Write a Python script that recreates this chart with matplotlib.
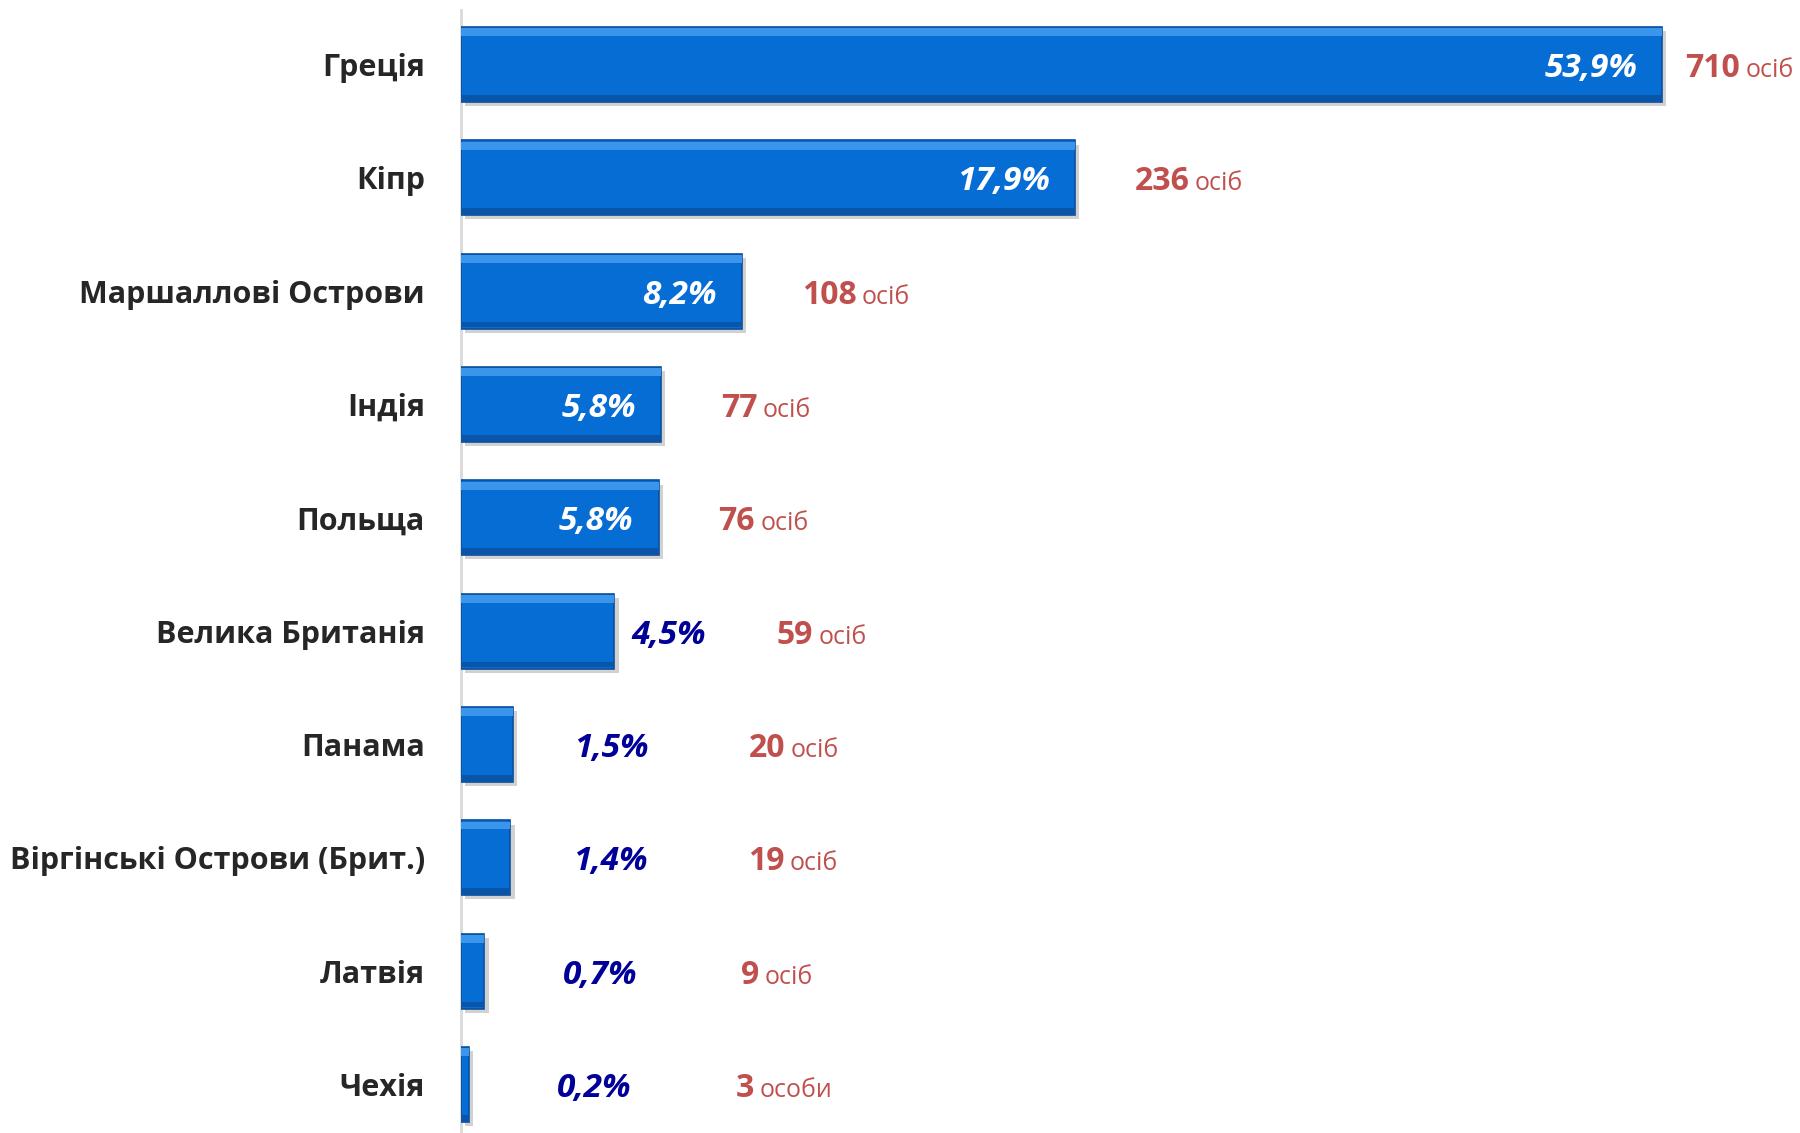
import matplotlib
matplotlib.use("Agg")
import matplotlib.pyplot as plt
import matplotlib.patheffects as pe

countries = ['Греція', 'Кіпр', 'Маршаллові Острови', 'Індія', 'Польща',
             'Велика Британія', 'Панама', 'Віргінські Острови (Брит.)',
             'Латвія', 'Чехія']
people = [710, 236, 108, 77, 76, 59, 20, 19, 9, 3]
shares = ['53,9%', '17,9%', '8,2%', '5,8%', '5,8%', '4,5%', '1,5%', '1,4%', '0,7%', '0,2%']
units = ['осіб'] * 9 + ['особи']

# the longest bar is cut short in the original picture
bar_cap = 462
inside_min = 70

plt.rcParams['font.family'] = ['Open Sans', 'DejaVu Sans']

fig = plt.figure(figsize=(18, 11.33), dpi=100)
ax = fig.add_axes([461 / 1800, 0, 1 - 461 / 1800, 1 - 10 / 1133])

y = list(range(len(countries)))
shown = [min(v, bar_cap) for v in people]
h = 0.66

shadow = [pe.SimplePatchShadow(offset=(3, -3), shadow_rgbFace='#8C8C8C', alpha=0.4), pe.Normal()]
bars = ax.barh(y, shown, height=h, color='#066DD5', edgecolor='#0B4F9E', linewidth=1.2, zorder=3)
for b in bars:
    b.set_path_effects(shadow)
ax.barh([v - h / 2 + 0.045 for v in y], shown, height=0.07, color='#3A95EB', linewidth=0, zorder=4)
ax.barh([v + h / 2 - 0.035 for v in y], shown, height=0.05, color='#0A55A8', linewidth=0, zorder=4)

px = 2.6  # pixels per unit on the x axis
for i, (v, s, n, u) in enumerate(zip(shown, shares, people, units)):
    base = i + 0.11
    if v >= inside_min:
        ax.text(v - 25 / px, base, s, ha='right', va='baseline', color='white',
                fontsize=24, fontweight='bold', fontstyle='italic', zorder=5)
        cx = min(v + 23, bar_cap + 9)
    else:
        pc = max(v + 21, 50 + v * 0.4)
        ax.text(pc, base, s, ha='center', va='baseline', color='#000099',
                fontsize=24, fontweight='bold', fontstyle='italic', zorder=5)
        cx = 105 + 0.28 * v
    t = ax.text(cx, base, str(n), ha='left', va='baseline', color='#C0504D',
                fontsize=23, fontweight='bold', zorder=5)
    ax.annotate(u, xy=(1, base), xycoords=(t, 'data'), xytext=(4, 0),
                textcoords='offset points', ha='left', va='baseline',
                color='#C0504D', fontsize=18, zorder=5)

ax.set_xlim(0, (1800 - 461) / px)
ax.set_ylim(9 + 48.5 / 113.3, -54.5 / 113.3)
ax.set_yticks(y)
ax.set_yticklabels(countries, fontsize=22, fontweight='bold', color='#262626')
ax.tick_params(axis='y', length=0, pad=26)
ax.set_xticks([])
for side in ['top', 'right', 'bottom']:
    ax.spines[side].set_visible(False)
ax.spines['left'].set_color('#D9D9D9')
ax.spines['left'].set_linewidth(2)

fig.savefig('out.png', dpi=100)
